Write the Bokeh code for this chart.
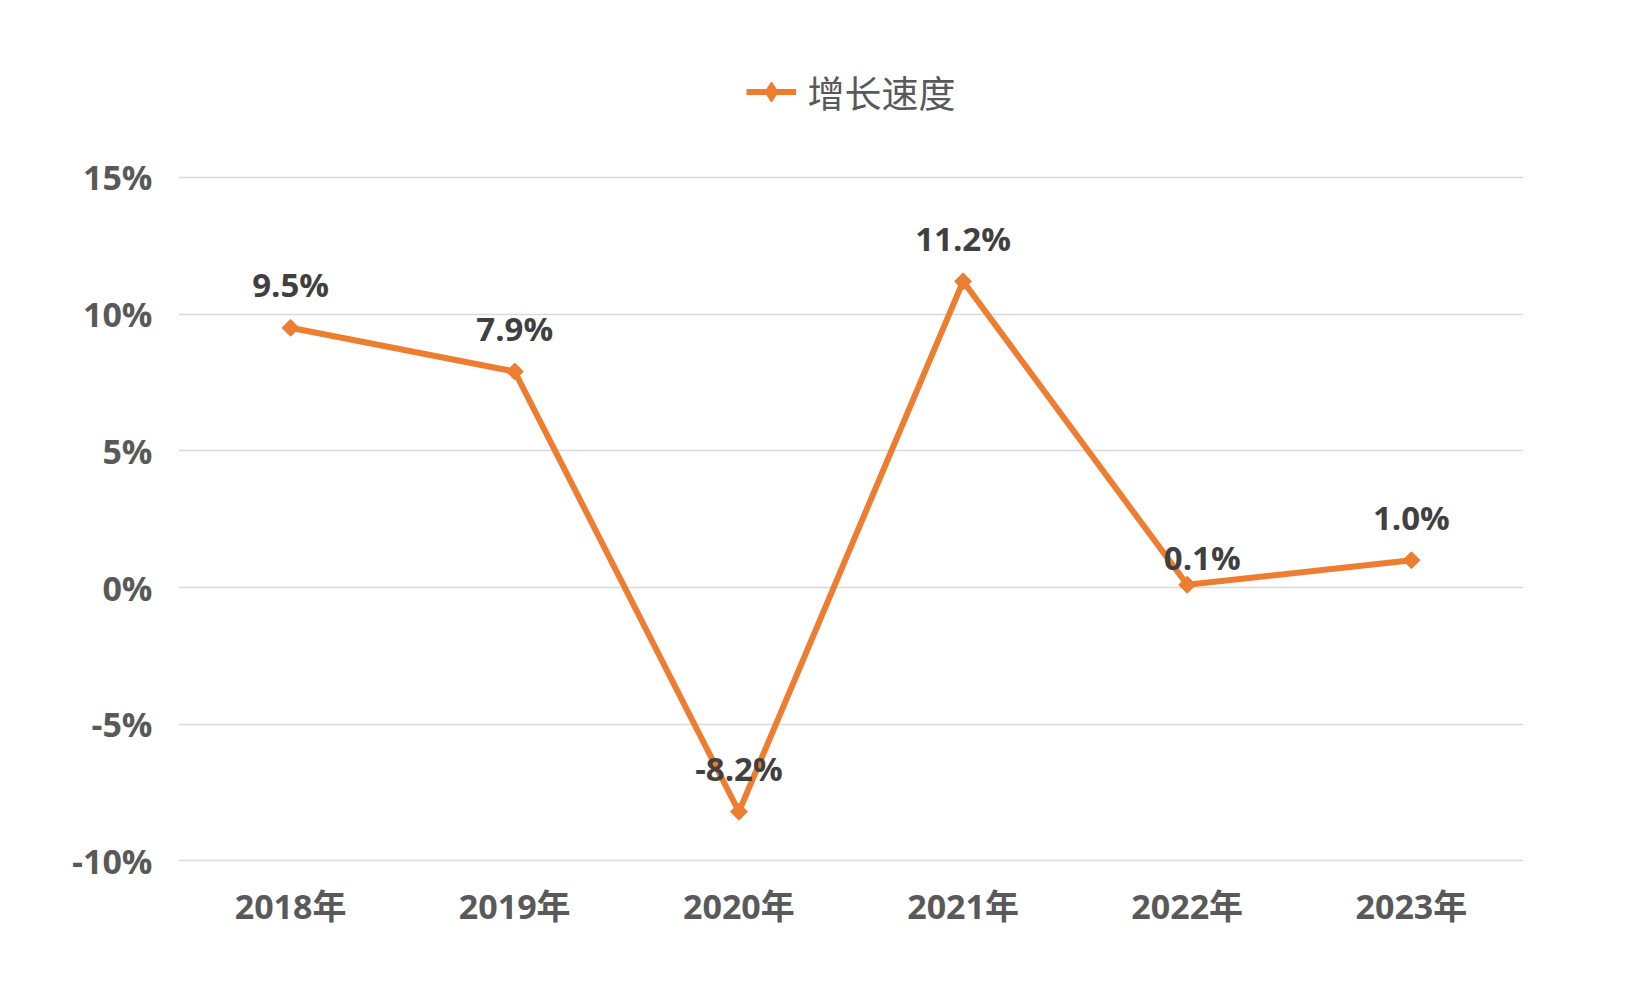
from bokeh.plotting import figure
from bokeh.models import (ColumnDataSource, FactorRange, Range1d, FixedTicker, Legend,
                          LegendItem, LabelSet)
from bokeh.core.properties import value
from bokeh.embed import file_html
from bokeh.resources import INLINE

# ---- data ----
years = ["2018年", "2019年", "2020年", "2021年", "2022年", "2023年"]
growth = [9.5, 7.9, -8.2, 11.2, 0.1, 1.0]          # 增长速度 (%)
y_ticks = [-10, -5, 0, 5, 10, 15]
y_tick_labels = ["-10%", "-5%", "0%", "5%", "10%", "15%"]
series_name = "增长速度"

# label placement tweaks (pixels, y up)
label_dx = [0, 0, 0, 0, 15, 0]
label_dy = [43, 43, 43, 43, 27, 43]

ORANGE = "#ED7D31"
AXIS_GRAY = "#595959"
LABEL_DARK = "#404040"
FONT = "Open Sans, Noto Sans CJK SC"

# layout (pixels)
W, H = 1618, 972
LEFT, RIGHT, BOTTOM = 178, 95, 111
TOP = 60                       # frame extends up to hold the legend
AXIS_TOP_PX = 117              # distance from frame top down to the 15% gridline
PLOT_PX = 684                  # pixels between -10% and 15%
y_lo, y_hi = y_ticks[0], y_ticks[-1]
y_end = y_hi + AXIS_TOP_PX * (y_hi - y_lo) / PLOT_PX

src = ColumnDataSource(dict(
    x=years, y=growth,
    lab=[f"{v:.1f}%" for v in growth],
    dx=label_dx, dy=label_dy,
))

p = figure(
    width=W, height=H,
    x_range=FactorRange(*years), y_range=Range1d(y_lo - 0.02, y_end),
    output_backend="svg", toolbar_location=None,
    min_border_left=LEFT, min_border_right=RIGHT,
    min_border_top=TOP, min_border_bottom=BOTTOM,
    background_fill_color="white", border_fill_color="white",
)
p.outline_line_color = None

# grid
p.xgrid.grid_line_color = None
p.ygrid.ticker = FixedTicker(ticks=y_ticks)
p.ygrid.grid_line_color = "#D9D9D9"
p.ygrid.grid_line_width = 1.5

# axes
p.yaxis.ticker = FixedTicker(ticks=y_ticks)
p.yaxis.major_label_overrides = {t: l for t, l in zip(y_ticks, y_tick_labels)}
for ax in (p.xaxis, p.yaxis):
    ax.axis_line_color = None
    ax.major_tick_line_color = None
    ax.minor_tick_line_color = None
    ax.major_label_text_color = AXIS_GRAY
    ax.major_label_text_font = FONT
    ax.major_label_text_font_style = "bold"
    ax.major_label_text_font_size = "34px"
p.yaxis.major_label_standoff = 20
p.xaxis.major_label_standoff = 15

# series
ln = p.line("x", "y", source=src, line_color=ORANGE, line_width=6)
p.scatter("x", "y", source=src, marker="square", angle=0.785398, size=12,
          fill_color=ORANGE, line_color=ORANGE)
# marker shown only in the legend (its single point has no value, so nothing is plotted)
leg_mark = p.scatter(x=[years[0]], y=[float("nan")], marker="diamond", size=24,
                     fill_color=ORANGE, line_color=ORANGE)

# data labels
labels = LabelSet(x="x", y="y", text="lab", source=src, x_offset="dx", y_offset="dy",
                  text_align="center", text_baseline="middle",
                  text_font=value(FONT), text_font_style="bold", text_font_size="33px",
                  text_color=LABEL_DARK)
p.add_layout(labels)

# legend (top of the extended frame)
legend = Legend(items=[LegendItem(label=series_name, renderers=[ln, leg_mark])],
                orientation="horizontal", location="top_center",
                border_line_color=None, background_fill_alpha=0,
                glyph_width=50, glyph_height=55, label_standoff=12,
                label_text_font="Noto Sans CJK SC", label_text_font_size="37px",
                label_text_color=AXIS_GRAY, padding=0, margin=4)
p.add_layout(legend)

open("out.html", "w").write(file_html(p, INLINE))
